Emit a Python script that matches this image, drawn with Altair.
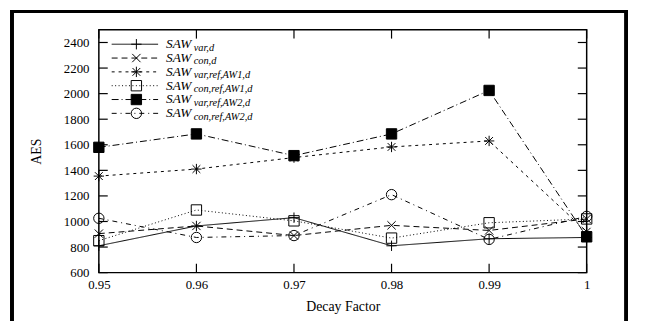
import altair as alt
import pandas as pd

# ---- data ----
decay = [0.95, 0.96, 0.97, 0.98, 0.99, 1.0]
series_keys = ["var_d", "con_d", "var_ref_aw1", "con_ref_aw1", "var_ref_aw2", "con_ref_aw2"]
sub_labels = ["var,d", "con,d", "var,ref,AW1,d", "con,ref,AW1,d", "var,ref,AW2,d", "con,ref,AW2,d"]

var_d = [810, 965, 1030, 810, 865, 875]
con_d = [905, 965, 890, 970, 930, 1020]
var_ref_aw1 = [1355, 1410, 1500, 1583, 1630, 920]
con_ref_aw1 = [850, 1090, 1005, 870, 990, 1020]
var_ref_aw2 = [1580, 1685, 1515, 1685, 2025, 880]
con_ref_aw2 = [1025, 875, 890, 1210, 860, 1040]

x_ticks = [0.95, 0.96, 0.97, 0.98, 0.99, 1.0]
y_ticks = [600, 800, 1000, 1200, 1400, 1600, 1800, 2000, 2200, 2400]

all_values = [var_d, con_d, var_ref_aw1, con_ref_aw1, var_ref_aw2, con_ref_aw2]
rows = []
for key, vals in zip(series_keys, all_values):
    for d, v in zip(decay, vals):
        rows.append({"series": key, "decay": d, "aes": v})
df = pd.DataFrame(rows)

leg_df = pd.DataFrame({
    "series": series_keys,
    "row": list(range(len(series_keys))),
    "main": ["SAW"] * len(series_keys),
    "sub": sub_labels,
})
xt_df = pd.DataFrame({"decay": x_ticks})
yt_df = pd.DataFrame({"aes": y_ticks})

SERIF = "Liberation Serif, serif"

# ---- scales ----
dash_scale = alt.Scale(domain=series_keys,
                       range=[[1, 0], [6, 4], [3, 4], [1, 2.5], [7, 3, 1, 3], [5, 4, 1, 4]])
plus = "M-1,0L1,0M0,-1L0,1"
cross = "M-0.8,-0.8L0.8,0.8M-0.8,0.8L0.8,-0.8"
aster = "M-1,0L1,0M0,-1L0,1M-0.75,-0.75L0.75,0.75M-0.75,0.75L0.75,-0.75"
shape_scale = alt.Scale(domain=series_keys,
                        range=[plus, cross, aster, "square", "square", "circle"])
fill_scale = alt.Scale(domain=series_keys,
                       range=["transparent", "transparent", "transparent",
                              "transparent", "black", "transparent"])

x_axis = alt.Axis(values=x_ticks, format=".2~f", grid=False, ticks=False, domain=False,
                  labelFlush=False, labelOverlap=False, labelPadding=6, titlePadding=8)
y_axis = alt.Axis(values=y_ticks, format="d", grid=False, ticks=False, domain=False,
                  labelOverlap=False, labelPadding=10, titlePadding=20)

x_enc = alt.X("decay:Q", scale=alt.Scale(domain=[0.95, 1.0], nice=False, zero=False),
              axis=x_axis, title="Decay Factor")
y_enc = alt.Y("aes:Q", scale=alt.Scale(domain=[600, 2500], nice=False, zero=False),
              axis=y_axis, title="AES")

lines = alt.Chart(df).mark_line(color="black", strokeWidth=1).encode(
    x=x_enc, y=y_enc,
    strokeDash=alt.StrokeDash("series:N", scale=dash_scale, legend=None),
    detail="series:N",
)
points = alt.Chart(df).mark_point(size=110, strokeWidth=1, opacity=1).encode(
    x=x_enc, y=y_enc,
    shape=alt.Shape("series:N", scale=shape_scale, legend=None),
    fill=alt.Fill("series:N", scale=fill_scale, legend=None),
    stroke=alt.value("black"),
)
xt_bottom = alt.Chart(xt_df).mark_rule(color="black", strokeWidth=1.2).encode(
    x=x_enc, y=alt.value(246), y2=alt.value(237))
xt_top = alt.Chart(xt_df).mark_rule(color="black", strokeWidth=1.2).encode(
    x=x_enc, y=alt.value(0), y2=alt.value(9))
yt_left = alt.Chart(yt_df).mark_rule(color="black", strokeWidth=1.2).encode(
    y=y_enc, x=alt.value(0), x2=alt.value(9))
yt_right = alt.Chart(yt_df).mark_rule(color="black", strokeWidth=1.2).encode(
    y=y_enc, x=alt.value(494), x2=alt.value(485))

data_layer = alt.layer(xt_bottom, xt_top, yt_left, yt_right, lines, points)

row_y = alt.Y("row:Q", scale=alt.Scale(domain=[0, 5], range=[14.7, 84.7]), axis=None)
leg_lines = alt.Chart(leg_df).mark_rule(color="black", strokeWidth=1).encode(
    x=alt.value(13), x2=alt.value(60), y=row_y,
    strokeDash=alt.StrokeDash("series:N", scale=dash_scale, legend=None),
)
leg_pts = alt.Chart(leg_df).mark_point(size=110, strokeWidth=1, opacity=1).encode(
    x=alt.value(38), y=row_y,
    shape=alt.Shape("series:N", scale=shape_scale, legend=None),
    fill=alt.Fill("series:N", scale=fill_scale, legend=None),
    stroke=alt.value("black"),
)
leg_main = alt.Chart(leg_df).mark_text(
    font=SERIF, fontStyle="italic", fontSize=13.5, align="left",
    baseline="alphabetic", dy=4, color="black").encode(
    x=alt.value(68), y=row_y, text="main:N")
leg_sub = alt.Chart(leg_df).mark_text(
    font=SERIF, fontStyle="italic", fontSize=10.5, align="left",
    baseline="alphabetic", dy=6.5, color="black").encode(
    x=alt.value(96), y=row_y, text="sub:N")
legend_layer = alt.layer(leg_lines, leg_pts, leg_main, leg_sub)

frame = alt.Chart(leg_df).mark_rect(fill="transparent", stroke="black", strokeWidth=3).encode(
    x=alt.value(-88), x2=alt.value(534), y=alt.value(-18.5), y2=alt.value(330))

chart = alt.layer(data_layer, legend_layer, frame).resolve_scale(
    y="independent"
).properties(
    width=494, height=246,
    autosize=alt.AutoSizeParams(type="none"),
    padding={"left": 92, "top": 20, "right": 54, "bottom": 47},
).configure_view(
    stroke="black", strokeWidth=1.5
).configure_axis(
    labelFont=SERIF, titleFont=SERIF,
    labelFontSize=13, titleFontSize=14, labelColor="black", titleColor="black",
    titleFontWeight="normal",
)

chart.save("out.html", embed_options={"renderer": "svg", "actions": False})
